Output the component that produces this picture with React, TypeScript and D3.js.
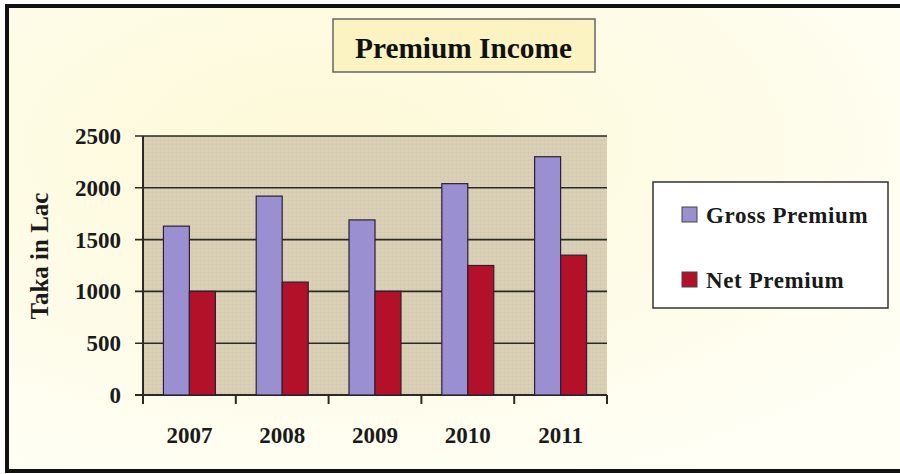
import React from "react";
import * as d3 from "d3";

const years = ["2007", "2008", "2009", "2010", "2011"];
const grossPremium = [1630, 1920, 1690, 2040, 2300];
const netPremium = [1000, 1090, 1000, 1250, 1350];
const seriesNames = ["Gross Premium", "Net Premium"];
const yTicks = [0, 500, 1000, 1500, 2000, 2500];

const W = 900;
const H = 474;
const FONT = "'Liberation Serif', 'Times New Roman', serif";

export default function App() {
  const plot = { left: 143, right: 607, top: 136, bottom: 395 };
  const x = d3.scaleBand<string>().domain(years).range([plot.left, plot.right]).paddingInner(0.44).paddingOuter(0.22);
  const x1 = d3.scaleBand<string>().domain(seriesNames).range([0, x.bandwidth()]).padding(0);
  const y = d3.scaleLinear().domain([0, 2500]).range([plot.bottom, plot.top]);
  const colors = ["#9a8fd0", "#b3102a"];
  const series = [grossPremium, netPremium];
  const step = (plot.right - plot.left) / years.length;

  return (
    <svg width={W} height={H} style={{ position: "absolute", left: 0, top: 0, display: "block" }} fontFamily={FONT}>
      <defs>
        <radialGradient id="bg" cx="0.35" cy="0.3" r="0.8">
          <stop offset="0" stopColor="#fdf9d8" />
          <stop offset="0.6" stopColor="#fefce9" />
          <stop offset="1" stopColor="#fffff6" />
        </radialGradient>
        <pattern id="tex" width="4" height="4" patternUnits="userSpaceOnUse">
          <rect width="4" height="4" fill="#d8cfb4" />
          <rect width="1" height="1" x="0" y="0" fill="#cbbfc0" />
          <rect width="1" height="1" x="2" y="2" fill="#e0d8a8" />
        </pattern>
      </defs>
      <rect width={W} height={H} fill="#ffffff" />
      <rect x={7} y={6} width={W + 20} height={465} fill="url(#bg)" stroke="#111" strokeWidth={4} />

      {/* Title */}
      <rect x={333} y={19} width={262} height={53} fill="#fbf3c2" stroke="#666" strokeWidth={1.5} />
      <text x={463.5} y={58} textAnchor="middle" fontSize={30} fontWeight="bold" fill="#111" textLength={217} lengthAdjust="spacingAndGlyphs">
        Premium Income
      </text>

      {/* Plot area */}
      <rect x={plot.left} y={plot.top} width={plot.right - plot.left} height={plot.bottom - plot.top} fill="url(#tex)" />
      {yTicks.map((t) => (
        <g key={t}>
          <line x1={plot.left - 8} x2={plot.right} y1={y(t)} y2={y(t)} stroke="#2a2a22" strokeWidth={t === 0 ? 2 : 1.6} />
          <text x={121} y={y(t) + 8} textAnchor="end" fontSize={23} fontWeight="bold" fill="#1a1a1a">
            {t}
          </text>
        </g>
      ))}
      <line x1={plot.left} x2={plot.left} y1={plot.top} y2={plot.bottom} stroke="#2a2a22" strokeWidth={2} />
      {d3.range(years.length + 1).map((i) => (
        <line key={i} x1={plot.left + i * step} x2={plot.left + i * step} y1={plot.bottom} y2={plot.bottom + 9} stroke="#2a2a22" strokeWidth={2} />
      ))}

      {/* Bars */}
      {years.map((yr, i) => (
        <g key={yr} transform={`translate(${x(yr)},0)`}>
          {series.map((s, j) => (
            <rect
              key={j}
              x={x1(seriesNames[j])}
              y={y(s[i])}
              width={x1.bandwidth()}
              height={y(0) - y(s[i])}
              fill={colors[j]}
              stroke="#2b2030"
              strokeWidth={1.2}
            />
          ))}
        </g>
      ))}

      {/* X labels */}
      {years.map((yr) => (
        <text key={yr} x={(x(yr) as number) + x.bandwidth() / 2} y={443} textAnchor="middle" fontSize={23} fontWeight="bold" fill="#1a1a1a">
          {yr}
        </text>
      ))}

      {/* Y axis title */}
      <text transform="translate(48,256) rotate(-90)" textAnchor="middle" fontSize={25} fontWeight="bold" fill="#1a1a1a">
        Taka in Lac
      </text>

      {/* Legend */}
      <rect x={653} y={182} width={235} height={126} fill="#ffffff" stroke="#333" strokeWidth={1.5} />
      {seriesNames.map((n, j) => (
        <g key={n} transform={`translate(682,${207 + j * 65})`}>
          <rect x={0} y={0} width={15} height={15} fill={colors[j]} stroke="#444" strokeWidth={1} />
          <text x={24} y={16} fontSize={23} fontWeight="bold" fill="#1a1a1a" letterSpacing={0.6}>
            {n}
          </text>
        </g>
      ))}
    </svg>
  );
}
